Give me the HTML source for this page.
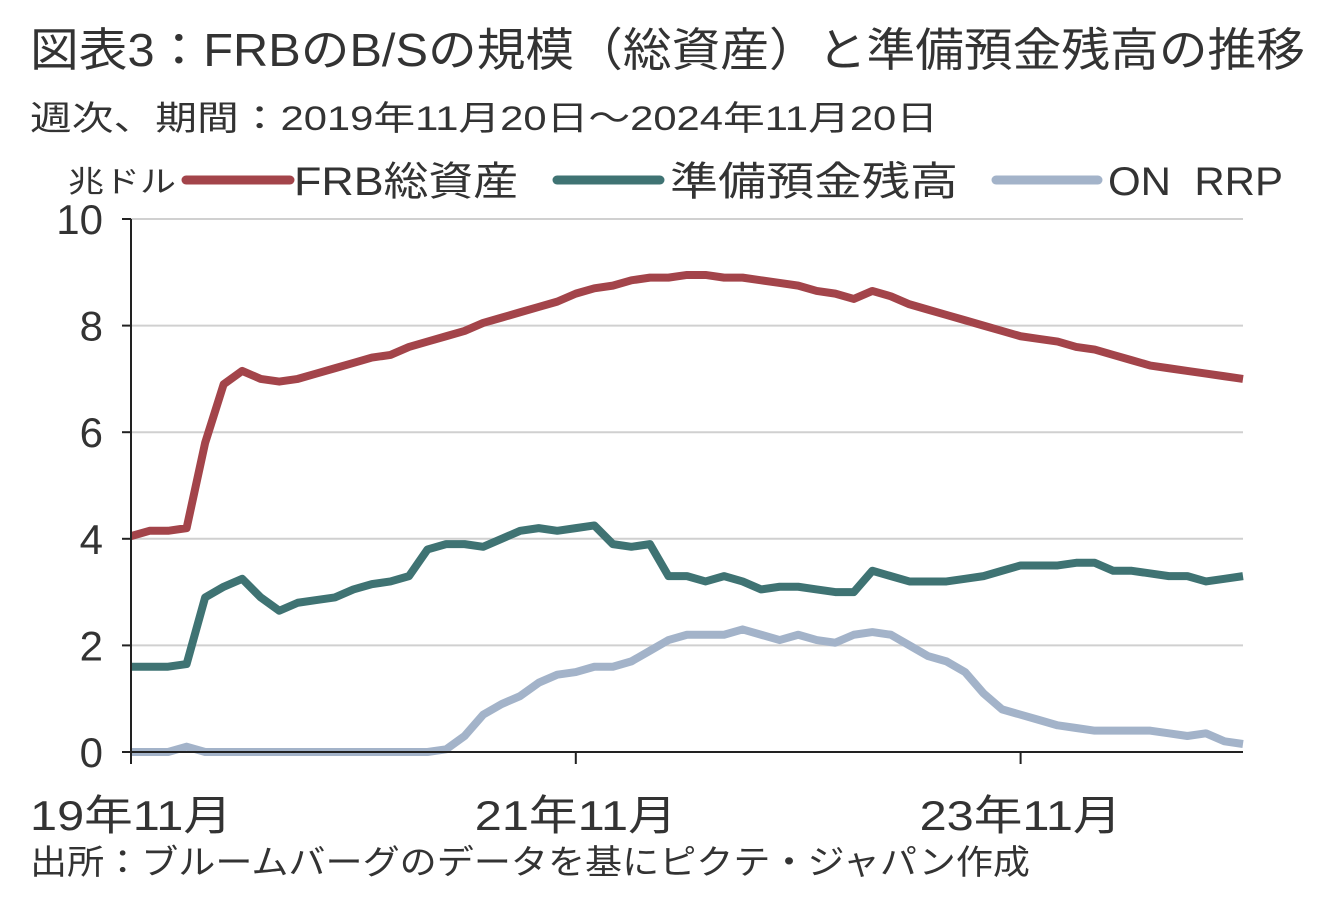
<!DOCTYPE html>
<html><head><meta charset="utf-8"><style>
body{margin:0;background:#fff;width:1338px;height:893px;overflow:hidden;font-family:"Liberation Sans","Noto Sans CJK JP",sans-serif;}
svg text{font-family:"Liberation Sans","Noto Sans CJK JP",sans-serif;fill:#333;}
</style></head><body>
<svg id="c" width="1338" height="893">
<text x="30" y="66" font-size="46" textLength="1275" lengthAdjust="spacingAndGlyphs">図表3：FRBのB/Sの規模（総資産）と準備預金残高の推移</text>
<text x="30" y="130" font-size="34" textLength="908" lengthAdjust="spacingAndGlyphs">週次、期間：2019年11月20日～2024年11月20日</text>
<text x="68" y="192" font-size="30" textLength="108" lengthAdjust="spacingAndGlyphs">兆ドル</text>
<g>
<line x1="186" y1="180" x2="290" y2="180" stroke="#a3444a" stroke-width="9" stroke-linecap="round"/>
<text x="294" y="195" font-size="40" textLength="224" lengthAdjust="spacingAndGlyphs">FRB総資産</text>
<line x1="557" y1="180" x2="660" y2="180" stroke="#3f7373" stroke-width="9" stroke-linecap="round"/>
<text x="670" y="195" font-size="40" textLength="288" lengthAdjust="spacingAndGlyphs">準備預金残高</text>
<line x1="996" y1="180" x2="1098" y2="180" stroke="#a3b3c9" stroke-width="9" stroke-linecap="round"/>
<text x="1108" y="195" font-size="40" textLength="175" lengthAdjust="spacingAndGlyphs" xml:space="preserve">ON  RRP</text>
</g>
<g id="grid"></g><g id="series"></g><g id="axes"></g>
<text x="30" y="874" font-size="34" textLength="1000" lengthAdjust="spacingAndGlyphs">出所：ブルームバーグのデータを基にピクテ・ジャパン作成</text>
</svg>
<script>
const yTicks=[0,2,4,6,8,10];
const xTickLabels=["19年11月","21年11月","23年11月"];
const xTickMonths=[0,24,48];
const frbTotal=[4.05,4.15,4.15,4.2,5.8,6.9,7.15,7.0,6.95,7.0,7.1,7.2,7.3,7.4,7.45,7.6,7.7,7.8,7.9,8.05,8.15,8.25,8.35,8.45,8.6,8.7,8.75,8.85,8.9,8.9,8.95,8.95,8.9,8.9,8.85,8.8,8.75,8.65,8.6,8.5,8.65,8.55,8.4,8.3,8.2,8.1,8.0,7.9,7.8,7.75,7.7,7.6,7.55,7.45,7.35,7.25,7.2,7.15,7.1,7.05,7.0];
const reserves=[1.6,1.6,1.6,1.65,2.9,3.1,3.25,2.9,2.65,2.8,2.85,2.9,3.05,3.15,3.2,3.3,3.8,3.9,3.9,3.85,4.0,4.15,4.2,4.15,4.2,4.25,3.9,3.85,3.9,3.3,3.3,3.2,3.3,3.2,3.05,3.1,3.1,3.05,3.0,3.0,3.4,3.3,3.2,3.2,3.2,3.25,3.3,3.4,3.5,3.5,3.5,3.55,3.55,3.4,3.4,3.35,3.3,3.3,3.2,3.25,3.3];
const onRrp=[0,0,0,0.1,0,0,0,0,0,0,0,0,0,0,0,0,0,0.05,0.3,0.7,0.9,1.05,1.3,1.45,1.5,1.6,1.6,1.7,1.9,2.1,2.2,2.2,2.2,2.3,2.2,2.1,2.2,2.1,2.05,2.2,2.25,2.2,2.0,1.8,1.7,1.5,1.1,0.8,0.7,0.6,0.5,0.45,0.4,0.4,0.4,0.4,0.35,0.3,0.35,0.2,0.15];
const X0=131,X1=1243,Y0=752,Y1=219;
const xs=m=>X0+(X1-X0)*m/60;
const ys=v=>Y0-(Y0-Y1)*v/10;
const NS="http://www.w3.org/2000/svg";
function mk(t,a,p){const e=document.createElementNS(NS,t);for(const k in a)e.setAttribute(k,a[k]);p.appendChild(e);return e;}
const grid=document.getElementById('grid'),axes=document.getElementById('axes'),ser=document.getElementById('series');
yTicks.forEach(v=>{
 if(v>0){const g=mk('line',{x1:X0,x2:X1,y1:ys(v),y2:ys(v),stroke:'#d0d0d0','stroke-width':2},grid);
 
 }
 const t=mk('line',{x1:X0-9,x2:X0,y1:ys(v),y2:ys(v),stroke:'#222','stroke-width':2},axes);
 
 
 const l=mk('text',{x:X0-28,y:ys(v)+15,'font-size':42,'text-anchor':'end'},axes);l.textContent=v;
 
 
});
const ya=mk('line',{x1:X0,x2:X0,y1:Y1,y2:Y0,stroke:'#222','stroke-width':2},axes);


const xa=mk('line',{x1:X0,x2:X1,y1:Y0,y2:Y0,stroke:'#222','stroke-width':2},axes);


xTickMonths.forEach((m,i)=>{
 const t=mk('line',{x1:xs(m),x2:xs(m),y1:Y0,y2:Y0+12,stroke:'#222','stroke-width':2},axes);
 
 
 const l=mk('text',{x:xs(m)-101,y:Y0+78,'font-size':42,textLength:202,lengthAdjust:'spacingAndGlyphs'},axes);l.textContent=xTickLabels[i];
 
 
});
function line(d,c,n){const p=mk('polyline',{points:d.map((v,i)=>xs(i)+','+ys(v)).join(' '),fill:'none',stroke:c,'stroke-width':8,'stroke-linejoin':'round'},ser);
 
 }
line(onRrp,'#a3b3c9','series-on-rrp');
line(reserves,'#3f7373','series-reserves');
line(frbTotal,'#a3444a','series-frb-total-assets');
</script>
</body></html>
